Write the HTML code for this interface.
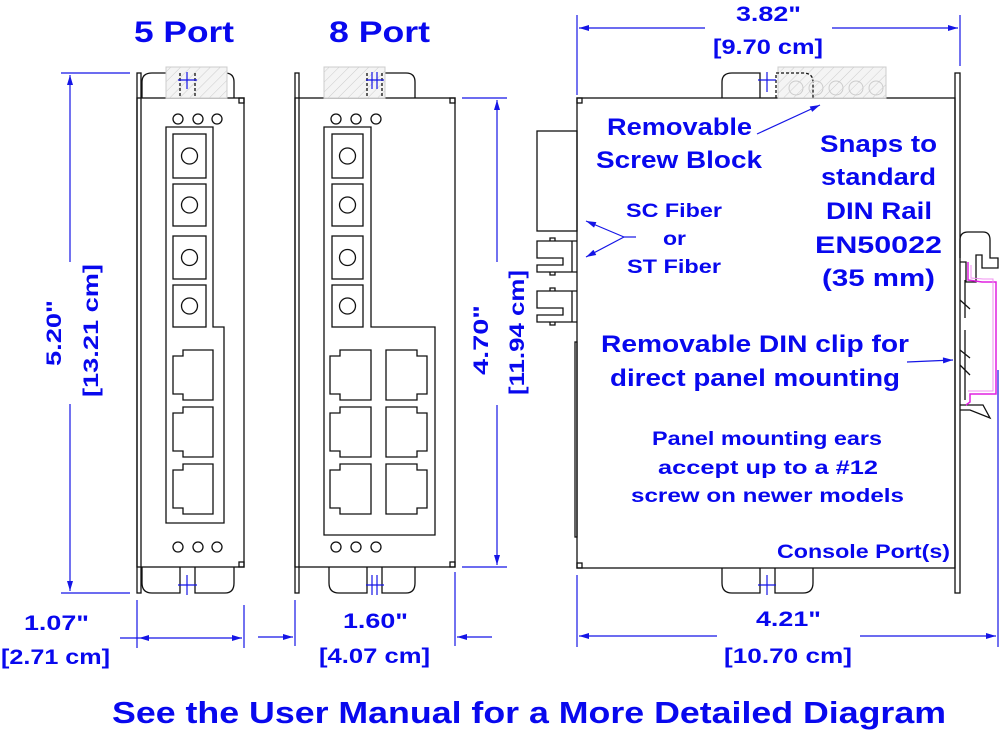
<!DOCTYPE html>
<html><head><meta charset="utf-8"><style>
html,body{margin:0;padding:0;background:#fff}
svg{display:block}
text{font-family:"Liberation Sans",sans-serif;font-weight:bold;fill:#0808ee}
.k{fill:none;stroke:#111;stroke-width:1.3}
.b{fill:none;stroke:#1515e6;stroke-width:1.2}
.h{fill:url(#hat);stroke:#ccc;stroke-width:1}
</style></head><body>
<svg width="1000" height="730" viewBox="0 0 1000 730" xmlns="http://www.w3.org/2000/svg">
<defs>
<pattern id="hat" width="7" height="7" patternUnits="userSpaceOnUse" patternTransform="rotate(45)">
<rect width="7" height="7" fill="#f4f4f4"/><line x1="0" y1="0" x2="0" y2="7" stroke="#ccc" stroke-width="1"/></pattern>
<marker id="ar" viewBox="0 0 10 6" refX="10" refY="3" markerWidth="12" markerHeight="6" markerUnits="userSpaceOnUse" orient="auto"><path d="M0,0 L10,3 L0,6 Z" fill="#1515e6"/></marker>
</defs>

<text x="134" y="42" font-size="30" textLength="100" lengthAdjust="spacingAndGlyphs">5 Port</text>
<text x="329" y="42" font-size="30" textLength="101" lengthAdjust="spacingAndGlyphs">8 Port</text>

<!-- 5 PORT -->
<rect x="137" y="73" width="4" height="520" class="k"/>
<rect x="137" y="98" width="107" height="469" class="k"/>
<rect x="239" y="98" width="5" height="5" class="k"/>
<rect x="239" y="562" width="5" height="5" class="k"/>
<path d="M142,98 V82 Q142,73 152,73 H180 V98 M195,98 V73 H225 Q234,73 234,82 V98" class="k"/>
<rect x="166" y="67" width="61" height="31" class="h"/>
<path d="M180,73 V98 M195,73 V98" class="k" stroke-dasharray="3,2"/>
<path d="M178,80 H197 M187,72 V89" class="b"/>
<path d="M142,567 V583 Q142,593 152,593 H180 V567 M195,567 V593 H225 Q234,593 234,583 V567" class="k"/>
<path d="M178,585 H197 M187,575 V595" class="b"/>
<circle cx="178" cy="119" r="5" class="k"/><circle cx="198" cy="119" r="5" class="k"/><circle cx="217" cy="119" r="5" class="k"/>
<circle cx="178" cy="547" r="5" class="k"/><circle cx="198" cy="547" r="5" class="k"/><circle cx="217" cy="547" r="5" class="k"/>
<path d="M166,127 H213 V327 H224 V523 H166 Z" class="k"/>
<g class="k">
<rect x="173" y="134" width="33" height="44"/><circle cx="189.5" cy="156" r="8"/>
<rect x="173" y="184" width="33" height="42"/><circle cx="189.5" cy="205" r="8"/>
<rect x="173" y="236" width="33" height="43"/><circle cx="189.5" cy="257.5" r="8"/>
<rect x="173" y="285" width="33" height="42"/><circle cx="189.5" cy="306" r="8"/>
<path d="M183,350 H213 V400 H183 V394 H173 V356 H183 Z"/>
<path d="M183,407 H213 V457 H183 V451 H173 V413 H183 Z"/>
<path d="M183,464 H213 V514 H183 V508 H173 V470 H183 Z"/>
</g>

<!-- 8 PORT -->
<rect x="295" y="73" width="4" height="520" class="k"/>
<rect x="295" y="98" width="160" height="469" class="k"/>
<rect x="450" y="98" width="5" height="5" class="k"/>
<rect x="450" y="562" width="5" height="5" class="k"/>
<path d="M329,98 V82 Q329,73 339,73 H367 V98 M382,98 V73 H406 Q415,73 415,82 V98" class="k"/>
<rect x="324" y="67" width="61" height="31" class="h"/>
<path d="M367,73 V98 M382,73 V98" class="k" stroke-dasharray="3,2"/>
<path d="M366,80 H384 M372,72 V89 M377,72 V89" class="b"/>
<path d="M329,567 V583 Q329,593 339,593 H367 V567 M382,567 V593 H406 Q415,593 415,583 V567" class="k"/>
<path d="M366,585 H384 M372,575 V595 M377,575 V595" class="b"/>
<circle cx="336" cy="119" r="5" class="k"/><circle cx="356" cy="119" r="5" class="k"/><circle cx="376" cy="119" r="5" class="k"/>
<circle cx="336" cy="547" r="5" class="k"/><circle cx="356" cy="547" r="5" class="k"/><circle cx="376" cy="547" r="5" class="k"/>
<path d="M324,127 H371 V327 H435 V535 H324 Z" class="k"/>
<g class="k">
<rect x="332" y="134" width="31" height="44"/><circle cx="347.5" cy="156" r="8"/>
<rect x="332" y="184" width="31" height="42"/><circle cx="347.5" cy="205" r="8"/>
<rect x="332" y="236" width="31" height="43"/><circle cx="347.5" cy="257.5" r="8"/>
<rect x="332" y="285" width="31" height="42"/><circle cx="347.5" cy="306" r="8"/>
<path d="M340,350 H371 V400 H340 V394 H330 V356 H340 Z"/>
<path d="M340,407 H371 V457 H340 V451 H330 V413 H340 Z"/>
<path d="M340,464 H371 V514 H340 V508 H330 V470 H340 Z"/>
<path d="M386,350 H417 V356 H427 V394 H417 V400 H386 Z"/>
<path d="M386,407 H417 V413 H427 V451 H417 V457 H386 Z"/>
<path d="M386,464 H417 V470 H427 V508 H417 V514 H386 Z"/>
</g>

<!-- SIDE VIEW -->
<rect x="577" y="98" width="378" height="470" class="k"/>
<rect x="577" y="98" width="5" height="5" class="k"/>
<rect x="577" y="563" width="5" height="5" class="k"/>
<rect x="955" y="73" width="5" height="520" class="k"/>
<rect x="537" y="131" width="40" height="100" class="k"/>
<rect x="575" y="342" width="2" height="195" class="k"/>
<g class="k">
<path d="M577,241 H537 V258 H563 V265 H537 V272 H577 M572,241 V272 M550,241 V238 H555 V241 M550,272 V275 H555 V272"/>
<path d="M577,291 H537 V308 H563 V315 H537 V322 H577 M572,291 V322 M550,291 V288 H555 V291 M550,322 V325 H555 V322"/>
</g>
<path d="M722,98 V82 Q722,73 732,73 H760 V98" class="k"/>
<rect x="778" y="67" width="108" height="31" class="h"/>
<path d="M776,98 V73 H803 Q813,73 813,82 V98" class="k" stroke-dasharray="3,2"/>
<g stroke="#ccc" fill="none"><circle cx="796" cy="88" r="7"/><circle cx="816" cy="88" r="7"/><circle cx="836" cy="88" r="7"/><circle cx="856" cy="88" r="7"/><circle cx="876" cy="88" r="7"/></g>
<path d="M758,80 H776 M767,72 V92" class="b"/>
<path d="M722,568 V583 Q722,593 732,593 H760 V568 M775,568 V593 H803 Q813,593 813,583 V568" class="k"/>
<path d="M758,585 H776 M767,575 V595" class="b"/>
<g class="k" stroke-width="1.1">
<path d="M960,258 V240 Q960,232 968,232 H983 Q990,232 990,240 V258 H998 V268 H982 V255 H976 V282 H966 V262 H960"/>
<path d="M960,300 L970,309 M960,350 L970,358 M960,365 L970,375"/>
<path d="M960,405 H983 L990,418 L970,410 H960"/>
<path d="M965,280 V318 M965,330 V400"/>
</g>
<path d="M968,262 V280 L982,282 H996 V394 H970 V402 L966,405" fill="none" stroke="#e020e0" stroke-width="1.5"/>
<path d="M971,265 V278 L983,279 H993 V391 H968" fill="none" stroke="#f090f0" stroke-width="1"/>

<text x="607" y="135" font-size="24" textLength="145" lengthAdjust="spacingAndGlyphs">Removable</text>
<text x="596" y="168" font-size="24" textLength="166" lengthAdjust="spacingAndGlyphs">Screw Block</text>
<line x1="757" y1="134" x2="820" y2="105" class="b" marker-end="url(#ar)"/>
<text x="820" y="152" font-size="24" textLength="117" lengthAdjust="spacingAndGlyphs">Snaps to</text>
<text x="821" y="185" font-size="24" textLength="115" lengthAdjust="spacingAndGlyphs">standard</text>
<text x="826" y="219" font-size="24" textLength="106" lengthAdjust="spacingAndGlyphs">DIN Rail</text>
<text x="815" y="253" font-size="24" textLength="127" lengthAdjust="spacingAndGlyphs">EN50022</text>
<text x="822" y="286" font-size="24" textLength="113" lengthAdjust="spacingAndGlyphs">(35 mm)</text>
<text x="626" y="217" font-size="19" textLength="96" lengthAdjust="spacingAndGlyphs">SC Fiber</text>
<text x="663" y="245" font-size="19" textLength="23" lengthAdjust="spacingAndGlyphs">or</text>
<text x="627" y="273" font-size="19" textLength="94" lengthAdjust="spacingAndGlyphs">ST Fiber</text>
<line x1="636" y1="237" x2="624" y2="237" class="b"/>
<line x1="624" y1="237" x2="586" y2="221" class="b" marker-end="url(#ar)"/>
<line x1="624" y1="237" x2="586" y2="257" class="b" marker-end="url(#ar)"/>
<text x="601" y="352" font-size="24" textLength="308" lengthAdjust="spacingAndGlyphs">Removable DIN clip for</text>
<text x="610" y="386" font-size="24" textLength="290" lengthAdjust="spacingAndGlyphs">direct panel mounting</text>
<line x1="907" y1="362" x2="953" y2="360" class="b" marker-end="url(#ar)"/>
<text x="652" y="445" font-size="19" textLength="230" lengthAdjust="spacingAndGlyphs">Panel mounting ears</text>
<text x="658" y="474" font-size="19" textLength="220" lengthAdjust="spacingAndGlyphs">accept up to a #12</text>
<text x="631" y="502" font-size="19" textLength="273" lengthAdjust="spacingAndGlyphs">screw on newer models</text>
<text x="777" y="558" font-size="19" textLength="173" lengthAdjust="spacingAndGlyphs">Console Port(s)</text>

<g class="b">
<line x1="61" y1="73" x2="130" y2="73"/><line x1="61" y1="593" x2="130" y2="593"/>
<line x1="70" y1="262" x2="70" y2="75" marker-end="url(#ar)"/>
<line x1="70" y1="404" x2="70" y2="591" marker-end="url(#ar)"/>
<line x1="462" y1="98" x2="507" y2="98"/><line x1="462" y1="567" x2="507" y2="567"/>
<line x1="497" y1="262" x2="497" y2="100" marker-end="url(#ar)"/>
<line x1="497" y1="405" x2="497" y2="565" marker-end="url(#ar)"/>
<line x1="137" y1="600" x2="137" y2="648"/><line x1="244" y1="605" x2="244" y2="648"/>
<line x1="120" y1="638" x2="139" y2="638"/>
<line x1="160" y1="638" x2="139" y2="638" marker-end="url(#ar)"/>
<line x1="160" y1="638" x2="242" y2="638" marker-end="url(#ar)"/>
<line x1="295" y1="600" x2="295" y2="646"/><line x1="455" y1="572" x2="455" y2="646"/>
<line x1="258" y1="637" x2="293" y2="637" marker-end="url(#ar)"/>
<line x1="492" y1="637" x2="457" y2="637" marker-end="url(#ar)"/>
<line x1="577" y1="15" x2="577" y2="95"/><line x1="960" y1="15" x2="960" y2="66"/>
<line x1="705" y1="28" x2="579" y2="28" marker-end="url(#ar)"/>
<line x1="832" y1="28" x2="958" y2="28" marker-end="url(#ar)"/>
<line x1="577" y1="575" x2="577" y2="647"/><line x1="998" y1="370" x2="998" y2="647"/>
<line x1="717" y1="636" x2="579" y2="636" marker-end="url(#ar)"/>
<line x1="860" y1="636" x2="996" y2="636" marker-end="url(#ar)"/>
</g>
<text transform="translate(61,366) rotate(-90)" font-size="21" textLength="66" lengthAdjust="spacingAndGlyphs">5.20"</text>
<text transform="translate(98,397) rotate(-90)" font-size="21" textLength="133" lengthAdjust="spacingAndGlyphs">[13.21 cm]</text>
<text transform="translate(488,375) rotate(-90)" font-size="21" textLength="70" lengthAdjust="spacingAndGlyphs">4.70"</text>
<text transform="translate(524,395) rotate(-90)" font-size="21" textLength="125" lengthAdjust="spacingAndGlyphs">[11.94 cm]</text>
<text x="24" y="630" font-size="21" textLength="65" lengthAdjust="spacingAndGlyphs">1.07"</text>
<text x="1" y="664" font-size="21" textLength="109" lengthAdjust="spacingAndGlyphs">[2.71 cm]</text>
<text x="343" y="628" font-size="21" textLength="65" lengthAdjust="spacingAndGlyphs">1.60"</text>
<text x="319" y="663" font-size="21" textLength="111" lengthAdjust="spacingAndGlyphs">[4.07 cm]</text>
<text x="756" y="626" font-size="21" textLength="65" lengthAdjust="spacingAndGlyphs">4.21"</text>
<text x="724" y="663" font-size="21" textLength="128" lengthAdjust="spacingAndGlyphs">[10.70 cm]</text>
<text x="736" y="21" font-size="21" textLength="65" lengthAdjust="spacingAndGlyphs">3.82"</text>
<text x="713" y="54" font-size="21" textLength="110" lengthAdjust="spacingAndGlyphs">[9.70 cm]</text>

<text x="112" y="723" font-size="31" textLength="834" lengthAdjust="spacingAndGlyphs">See the User Manual for a More Detailed Diagram</text>
</svg>
</body></html>
